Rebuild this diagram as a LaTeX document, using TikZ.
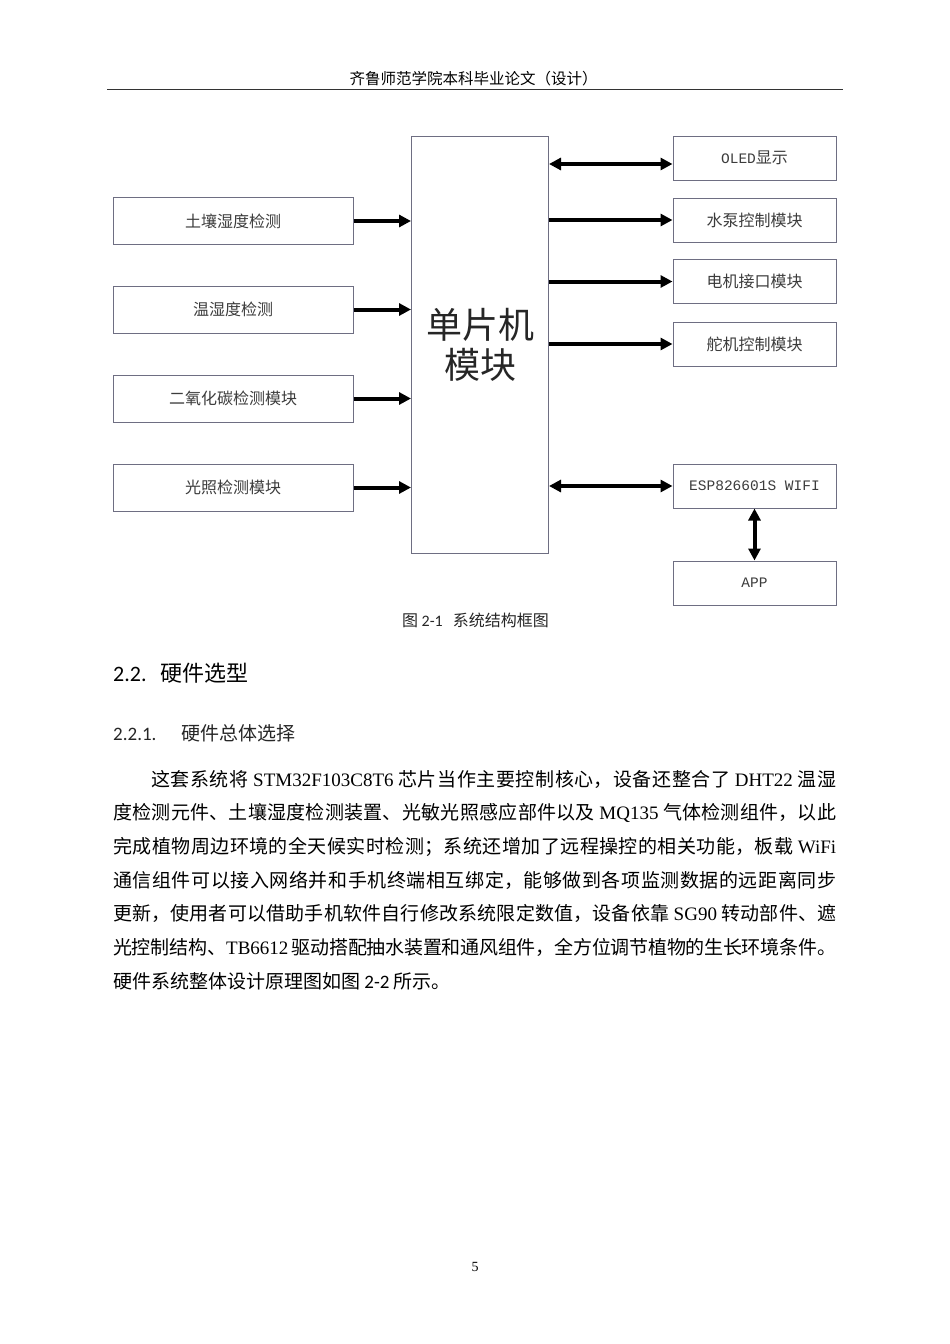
\documentclass[tikz,border=0pt]{standalone}
\usepackage{fontspec}
\setmainfont{Noto Sans CJK SC}
\newfontfamily\tnrf{Liberation Serif}
\newfontfamily\calf{Carlito}
\newfontfamily\monof{Liberation Mono}
\usetikzlibrary{arrows.meta,calc}
\XeTeXlinebreaklocale "zh"
\XeTeXlinebreakskip=0pt plus 3pt minus 0.5pt
\definecolor{boxc}{HTML}{6E6E82}
\definecolor{txtc}{HTML}{3C3C3C}
\begin{document}
\begin{tikzpicture}[x=1pt,y=-1pt,
  box/.style={draw=boxc, line width=1pt, fill=white, inner sep=0pt, text=txtc, font=\fontsize{16}{18}\selectfont},
  lbox/.style={box, minimum width=240pt, minimum height=47pt},
  rbox/.style={box, minimum width=163pt, minimum height=44pt},
  arr/.style={line width=4pt, -{Triangle[length=12pt,width=12pt]}},
  darr/.style={line width=4pt, {Triangle[length=12pt,width=12pt]}-{Triangle[length=12pt,width=12pt]}},
  plain/.style={inner sep=0pt},
]
\fill[white] (0,0) rectangle (950,1344);
\useasboundingbox (0,0) rectangle (950,1344);

% header
\node[plain, font=\fontsize{15.5}{18}\selectfont] (hdr) at (473.5,79) {齐鲁师范学院本科毕业论文（设计）};
\draw[line width=0.9pt, black!80] (107,89) -- (843,89);

% left boxes
\node[lbox] (s1) at (233,221) {土壤湿度检测};
\node[lbox] (s2) at (233,309.5) {温湿度检测};
\node[lbox] (s3) at (233,398.5) {二氧化碳检测模块};
\node[lbox] (s4) at (233,487.5) {光照检测模块};

% MCU
\node[box, minimum width=137pt, minimum height=417pt, align=center, text=black!85,
      font=\fontsize{36}{40}\selectfont] (mcu) at (480,344.5) {单片机\\模块};

% right boxes
\node[rbox] (oled) at (754.5,158) {{\monof\fontsize{14.5}{16}\selectfont OLED}显示};
\node[rbox] (pump) at (754.5,220) {水泵控制模块};
\node[rbox] (motor) at (754.5,281.5) {电机接口模块};
\node[rbox] (servo) at (754.5,344) {舵机控制模块};
\node[rbox, font=\monof\fontsize{14.5}{16}\selectfont] (esp) at (754.5,486) {ESP826601S WIFI};
\node[rbox, font=\monof\fontsize{14.5}{16}\selectfont] (app) at (754.5,583) {APP};

% arrows left
\draw[arr] (s1.east) -- (s1.east -| mcu.west);
\draw[arr] (s2.east) -- (s2.east -| mcu.west);
\draw[arr] (s3.east) -- (s3.east -| mcu.west);
\draw[arr] (s4.east) -- (s4.east -| mcu.west);

% arrows right
\draw[darr] ($(oled.west -| mcu.east)+(0,6)$) -- ($(oled.west)+(0,6)$);
\draw[arr] (mcu.east |- pump.west) -- (pump.west);
\draw[arr] (mcu.east |- motor.west) -- (motor.west);
\draw[arr] (mcu.east |- servo.west) -- (servo.west);
\draw[darr] (mcu.east |- esp.west) -- (esp.west);
\draw[darr] (esp.south) -- (app.north);

% caption
\node[plain, font=\fontsize{16}{18}\selectfont, text=black!85] (cap) at (475.5,620) {图 {\calf 2-1}\hspace{10pt}系统结构框图};

% headings
\node[plain, anchor=west, font=\fontsize{22}{24}\selectfont] (h1) at (113,673) {{\calf 2.2.}\hspace{14pt}硬件选型};
\node[plain, anchor=west, font=\fontsize{19}{22}\selectfont, text=black!85] (h2) at (113,733) {{\calf 2.2.1.}\hspace{25pt}硬件总体选择};

% paragraph
\node[plain, anchor=base west, text width=723pt, align=justify, font=\fontsize{19}{33.7}\selectfont] (para) at (113,786) {\hspace*{38pt}这套系统将 {\tnrf STM32F103C8T6} 芯片当作主要控制核心，设备还整合了 {\tnrf DHT22} 温湿\linebreak
度检测元件、土壤湿度检测装置、光敏光照感应部件以及 {\tnrf MQ135} 气体检测组件，以此\linebreak
完成植物周边环境的全天候实时检测；系统还增加了远程操控的相关功能，板载 {\tnrf WiFi}\linebreak
通信组件可以接入网络并和手机终端相互绑定，能够做到各项监测数据的远距离同步\linebreak
更新，使用者可以借助手机软件自行修改系统限定数值，设备依靠 {\tnrf SG90} 转动部件、遮\linebreak
光控制结构、{\tnrf TB6612} 驱动搭配抽水装置和通风组件，全方位调节植物的生长环境条件。\linebreak
硬件系统整体设计原理图如图 {\calf 2-2} 所示。};

% page number
\node[plain, font=\tnrf\fontsize{14}{16}\selectfont] (pg) at (475,1267) {5};
\end{tikzpicture}
\end{document}
